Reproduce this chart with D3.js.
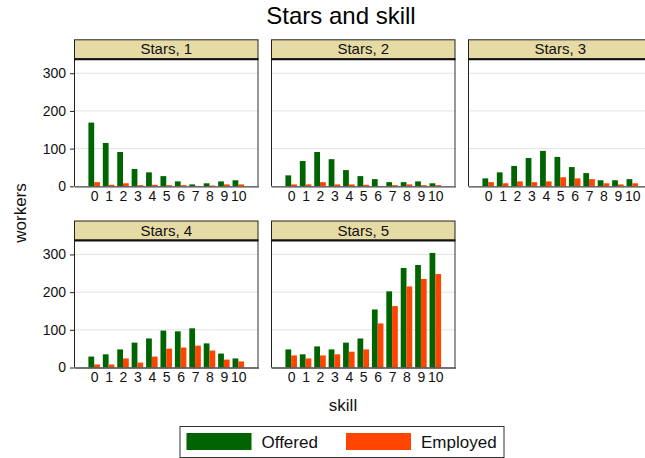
<!DOCTYPE html>
<html>
<head>
<meta charset="utf-8">
<script src="https://cdn.jsdelivr.net/npm/d3@7"></script>
<style>
  html, body { margin: 0; padding: 0; background: #fff; }
  svg { display: block; font-family: "Liberation Sans", Arial, sans-serif; }
</style>
</head>
<body>
<svg id="chart" width="645" height="458"></svg>
<script>
// Skill levels shown on every panel's x axis
const skills = ["0", "1", "2", "3", "4", "5", "6", "7", "8", "9", "10"];
// One panel per star rating
const stars = [1, 2, 3, 4, 5];
const series = ["Offered", "Employed"];
const yTicks = [0, 100, 200, 300];

// Workers offered, per star rating (rows) and skill (columns)
const offered1 = [169, 115, 91, 46, 37, 27, 13, 5, 8, 13, 16];
const offered2 = [29, 67, 91, 72, 43, 27, 19, 11, 11, 13, 8];
const offered3 = [21, 37, 54, 75, 94, 78, 51, 35, 16, 16, 19];
const offered4 = [29, 35, 48, 66, 77, 98, 96, 104, 64, 37, 24];
const offered5 = [48, 35, 56, 48, 66, 77, 154, 202, 264, 272, 304];

// Workers employed, same layout
const employed1 = [11, 4, 8, 3, 4, 3, 3, 1, 2, 5, 5];
const employed2 = [5, 5, 11, 5, 5, 4, 1, 3, 5, 3, 3];
const employed3 = [11, 8, 13, 11, 13, 24, 21, 19, 8, 5, 8];
const employed4 = [8, 8, 24, 13, 29, 50, 53, 58, 45, 21, 16];
const employed5 = [32, 24, 32, 35, 42, 48, 117, 163, 215, 235, 248];

const offeredBy = [offered1, offered2, offered3, offered4, offered5];
const employedBy = [employed1, employed2, employed3, employed4, employed5];

const colors = { Offered: "#006400", Employed: "#ff4500" };
const FONT = "Liberation Sans, Arial, sans-serif";

const svg = d3.select("#chart");

// Grid of small multiples: 3 columns, 2 rows
const panelW = 184.5, gapX = 12.5, left0 = 74;
const stripH = 20, plotH = 127;
const rowTops = [39.3, 220.5];
const yMax = 337;

const x = d3.scalePoint().domain(skills).range([0, panelW]).padding(1.4);
const barW = x.step() * 0.4;
const y = d3.scaleLinear().domain([0, yMax]).range([plotH, 0]);

stars.forEach((s, i) => {
  const col = i % 3, row = Math.floor(i / 3);
  const px = left0 + col * (panelW + gapX);
  const py = rowTops[row] + stripH;
  const g = svg.append("g").attr("transform", `translate(${px},${py})`);

  // gridlines
  g.selectAll("line.grid").data(yTicks.filter(t => t > 0)).join("line")
    .attr("class", "grid")
    .attr("x1", 0).attr("x2", panelW)
    .attr("y1", d => y(d)).attr("y2", d => y(d))
    .attr("stroke", "#e3e3e3").attr("stroke-width", 1);

  const rows = skills.map((k, j) => ({ k, Offered: offeredBy[i][j], Employed: employedBy[i][j] }));

  // Offered bars sit left of the tick, Employed bars to its right
  g.selectAll("rect.off").data(rows).join("rect")
    .attr("x", d => x(d.k) - barW)
    .attr("width", barW)
    .attr("y", d => y(d.Offered))
    .attr("height", d => y(0) - y(d.Offered))
    .attr("fill", colors.Offered);
  g.selectAll("rect.emp").data(rows).join("rect")
    .attr("x", d => x(d.k))
    .attr("width", barW)
    .attr("y", d => y(d.Employed))
    .attr("height", d => y(0) - y(d.Employed))
    .attr("fill", colors.Employed);

  // plot region frame
  g.append("line").attr("x1", 0.5).attr("x2", 0.5).attr("y1", 0).attr("y2", plotH)
    .attr("stroke", "#222").attr("stroke-width", 1);
  g.append("line").attr("x1", panelW - 0.5).attr("x2", panelW - 0.5).attr("y1", 0).attr("y2", plotH)
    .attr("stroke", "#333").attr("stroke-width", 1);

  // x axis
  const xa = g.append("g").attr("transform", `translate(0,${plotH})`)
    .call(d3.axisBottom(x).tickSize(0).tickPadding(5));
  xa.attr("font-size", 14).attr("font-family", FONT);
  xa.select(".domain").attr("stroke", "#444").attr("stroke-width", 1.3);
  xa.selectAll("text").attr("fill", "#111");

  // y axis only on the first column
  if (col === 0) {
    const ya = g.append("g")
      .call(d3.axisLeft(y).tickValues(yTicks).tickSize(4).tickPadding(4));
    ya.attr("font-size", 14).attr("font-family", FONT);
    ya.select(".domain").remove();
    ya.selectAll("line").attr("stroke", "#222");
    ya.selectAll("text").attr("fill", "#111");
  }

  // strip label
  const sg = svg.append("g").attr("transform", `translate(${px},${rowTops[row]})`);
  sg.append("rect").attr("x", 0.5).attr("y", 0.5)
    .attr("width", panelW - 1).attr("height", stripH - 1)
    .attr("fill", "#e6daa5").attr("stroke", "#222").attr("stroke-width", 1);
  sg.append("line").attr("x1", 0).attr("x2", panelW).attr("y1", stripH).attr("y2", stripH)
    .attr("stroke", "#111").attr("stroke-width", 2);
  sg.append("text").attr("x", panelW / 2).attr("y", stripH / 2 + 5)
    .attr("text-anchor", "middle").attr("font-size", 15).attr("fill", "#111")
    .text(`Stars, ${s}`);
});

// titles
svg.append("text").attr("x", 341).attr("y", 24)
  .attr("text-anchor", "middle").attr("font-size", 24).attr("fill", "#000")
  .text("Stars and skill");
svg.append("text").attr("x", 343).attr("y", 411)
  .attr("text-anchor", "middle").attr("font-size", 17).attr("fill", "#111")
  .text("skill");
svg.append("text").attr("transform", "translate(26,213) rotate(-90)")
  .attr("text-anchor", "middle").attr("font-size", 17).attr("fill", "#111")
  .text("workers");

// legend
const lg = svg.append("g").attr("transform", "translate(179.5,426)");
lg.append("rect").attr("x", 0.5).attr("y", 0.5).attr("width", 324).attr("height", 31)
  .attr("fill", "#fff").attr("stroke", "#333").attr("stroke-width", 1);
const legendX = [7, 166.5];
series.forEach((name, i) => {
  lg.append("rect").attr("x", legendX[i]).attr("y", 7)
    .attr("width", 65).attr("height", 17).attr("fill", colors[name]);
  lg.append("text").attr("x", legendX[i] + 75).attr("y", 21.5)
    .attr("font-size", 17).attr("fill", "#111").text(name);
});
</script>
</body>
</html>
